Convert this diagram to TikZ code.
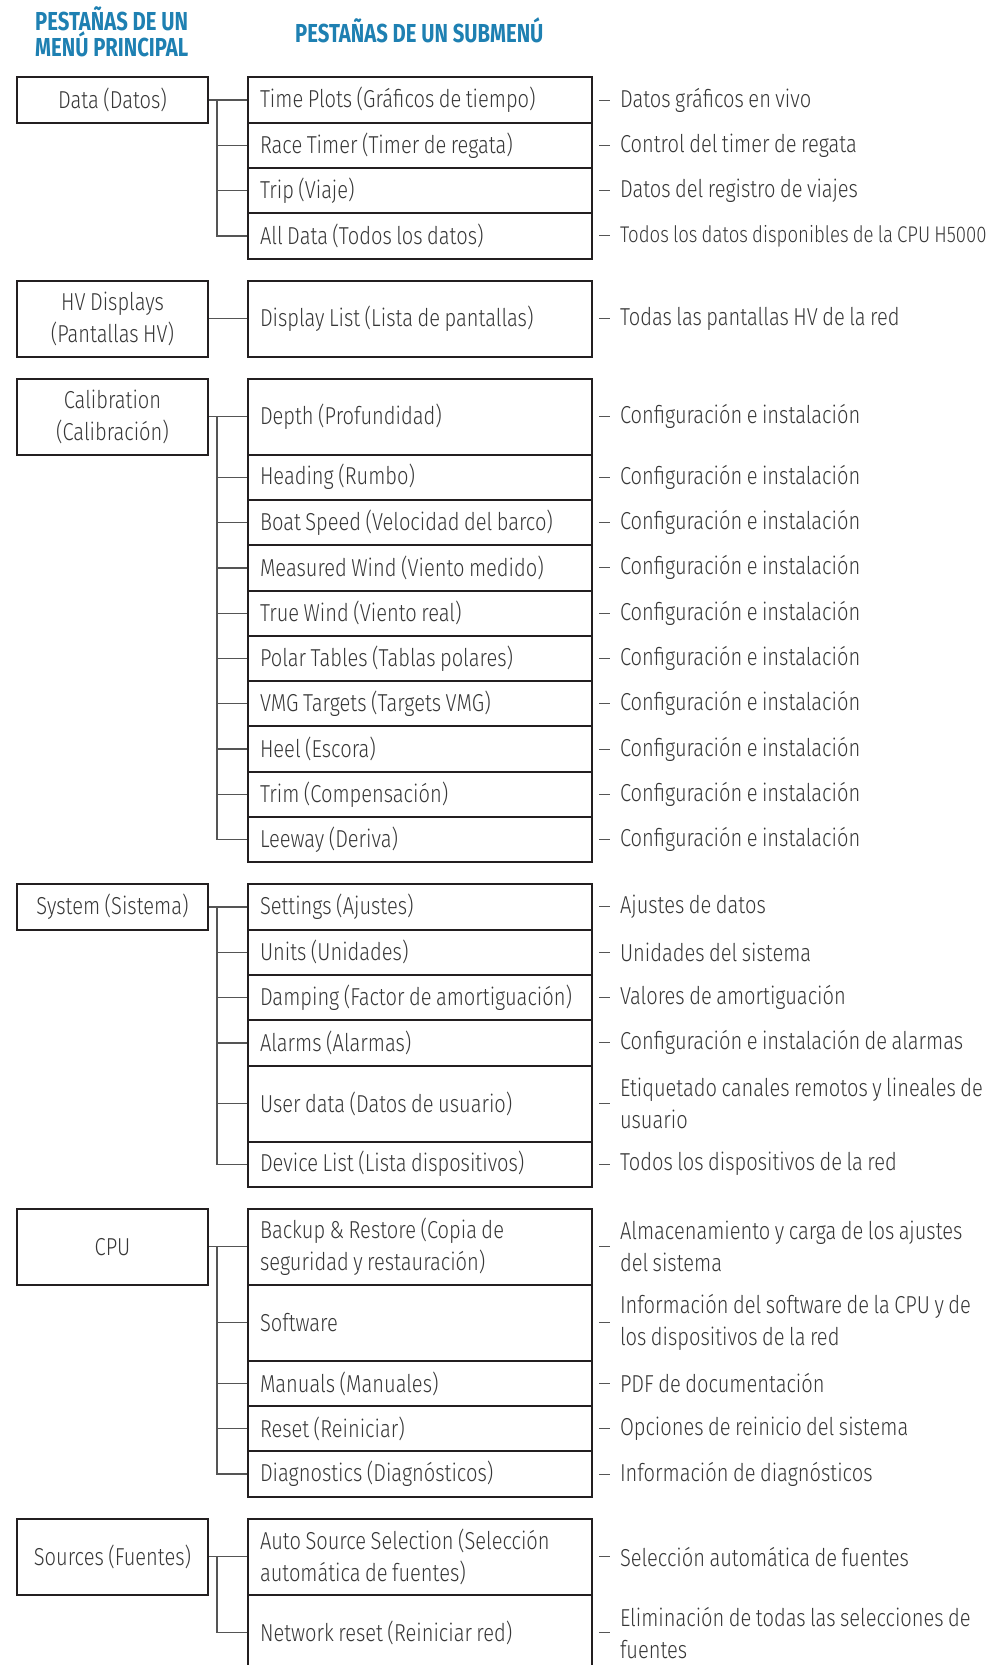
\documentclass[tikz,border=0pt]{standalone}
\usepackage{fontspec}
\setmainfont{Fira Sans}[UprightFont=* Light, BoldFont=* Bold, FakeStretch=0.82, WordSpace=0.8]
\newfontfamily\headfont{Fira Sans Bold}[FakeStretch=0.78]
\definecolor{hdblue}{RGB}{30,128,178}
\definecolor{boxline}{RGB}{35,31,32}
\definecolor{linkgray}{RGB}{85,85,85}
\definecolor{txtgray}{RGB}{55,55,55}
\usetikzlibrary{positioning}

\begin{document}
\begin{tikzpicture}[x=1pt, y=-1pt,
  mainbox/.style={draw=boxline, line width=2pt, minimum width=191pt, align=center, inner sep=0pt, anchor=north west, font=\fontsize{24.5}{32}\selectfont, text=txtgray},
  subbox/.style={draw=boxline, line width=2pt, text width=320pt, align=flush left, inner xsep=12pt, inner ysep=0pt, anchor=north west, font=\fontsize{24.5}{32}\selectfont, text=txtgray},
  rowS/.style={minimum height=45.3pt},
  rowT/.style={minimum height=76pt},
  desc/.style={inner xsep=0pt, inner ysep=0pt, outer sep=0pt, align=flush left, font=\fontsize{24.5}{32}\selectfont, text=txtgray},
  link/.style={draw=linkgray, line width=1.3pt},
  tick/.style={draw=linkgray, line width=1pt, shorten <=6pt, shorten >=10pt},
  head/.style={font=\headfont\fontsize{26}{26.5}\selectfont, text=hdblue, align=left, inner sep=0pt}]

  \fill[white] (0,0) rectangle (1001,1665);
  \useasboundingbox (0,0) rectangle (1001,1665);

  %% --- HEADINGS ---
  \node[head, anchor=north west] (hmain) at (35,6)  {PESTAÑAS DE UN\\MENÚ PRINCIPAL};
  \node[head, anchor=west]       (hsub)  at (295,30) {PESTAÑAS DE UN SUBMENÚ};

  %% --- DATA ---
  \node[mainbox, rowS] (data)    at (16,76.4)  {Data (Datos)};
  \node[subbox, rowS]  (tplot)   at (247,76.4)  {Time Plots (Gráficos de tiempo)};
  \node[subbox, rowS]  (rtimer)  at (247,121.7) {Race Timer (Timer de regata)};
  \node[subbox, rowS]  (trip)    at (247,167.0) {Trip (Viaje)};
  \node[subbox, rowS]  (alldata) at (247,212.3) {All Data (Todos los datos)};

  \draw[link] (data.east) -- (tplot.west);
  \draw[link] ([xshift=8pt]data.east) |- (rtimer.west);
  \draw[link] ([xshift=8pt]data.east) |- (trip.west);
  \draw[link] ([xshift=8pt]data.east) |- (alldata.west);

  \node[desc, right=27pt of tplot]   (dtplot)   {Datos gráficos en vivo};
  \node[desc, right=27pt of rtimer]  (drtimer)  {Control del timer de regata};
  \node[desc, right=27pt of trip]    (dtrip)    {Datos del registro de viajes};
  \node[desc, right=27pt of alldata, font=\fontsize{22.7}{32}\selectfont] (dalldata) {Todos los datos disponibles de la CPU H5000};
  \draw[tick] (tplot.east) -- (dtplot.west);
  \draw[tick] (rtimer.east) -- (drtimer.west);
  \draw[tick] (trip.east) -- (dtrip.west);
  \draw[tick] (alldata.east) -- (dalldata.west);

  %% --- HV DISPLAYS ---
  \node[mainbox, rowT] (hvdisp) at (16,279.6)  {HV Displays\\(Pantallas HV)};
  \node[subbox, rowT]  (dlist)  at (247,279.6) {Display List (Lista de pantallas)};
  \draw[link] (hvdisp.east) -- (dlist.west);
  \node[desc, right=27pt of dlist] (ddlist) {Todas las pantallas HV de la red};
  \draw[tick] (dlist.east) -- (ddlist.west);

  %% --- CALIBRATION ---
  \node[mainbox, rowT] (calib)   at (16,377.6)  {Calibration\\(Calibración)};
  \node[subbox, rowT]  (depth)   at (247,377.6) {Depth (Profundidad)};
  \node[subbox, rowS]  (heading) at (247,453.6) {Heading (Rumbo)};
  \node[subbox, rowS]  (bspeed)  at (247,498.9) {Boat Speed (Velocidad del barco)};
  \node[subbox, rowS]  (mwind)   at (247,544.2) {Measured Wind (Viento medido)};
  \node[subbox, rowS]  (twind)   at (247,589.5) {True Wind (Viento real)};
  \node[subbox, rowS]  (polar)   at (247,634.8) {Polar Tables (Tablas polares)};
  \node[subbox, rowS]  (vmg)     at (247,680.1) {VMG Targets (Targets VMG)};
  \node[subbox, rowS]  (heel)    at (247,725.4) {Heel (Escora)};
  \node[subbox, rowS]  (trim)    at (247,770.7) {Trim (Compensación)};
  \node[subbox, rowS]  (leeway)  at (247,816.0) {Leeway (Deriva)};

  \draw[link] (calib.east) -- (depth.west);
  \foreach \r in {heading,bspeed,mwind,twind,polar,vmg,heel,trim,leeway}
    \draw[link] ([xshift=8pt]calib.east) |- (\r.west);

  \foreach \r in {depth,heading,bspeed,mwind,twind,polar,vmg,heel,trim,leeway} {
    \node[desc, right=27pt of \r] (d\r) {Configuración e instalación};
    \draw[tick] (\r.east) -- (d\r.west);
  }

  %% --- SYSTEM ---
  \node[mainbox, rowS] (system)   at (16,883.3)   {System (Sistema)};
  \node[subbox, rowS]  (settings) at (247,883.3)  {Settings (Ajustes)};
  \node[subbox, rowS]  (units)    at (247,928.6)  {Units (Unidades)};
  \node[subbox, rowS]  (damping)  at (247,973.9)  {Damping (Factor de amortiguación)};
  \node[subbox, rowS]  (alarms)   at (247,1019.2) {Alarms (Alarmas)};
  \node[subbox, rowT]  (udata)    at (247,1064.5) {User data (Datos de usuario)};
  \node[subbox, rowS]  (devlist)  at (247,1140.5) {Device List (Lista dispositivos)};

  \draw[link] (system.east) -- (settings.west);
  \foreach \r in {units,damping,alarms,udata,devlist}
    \draw[link] ([xshift=8pt]system.east) |- (\r.west);

  \node[desc, right=27pt of settings] (dsettings) {Ajustes de datos};
  \node[desc, right=27pt of units]    (dunits)    {Unidades del sistema};
  \node[desc, right=27pt of damping]  (ddamping)  {Valores de amortiguación};
  \node[desc, right=27pt of alarms]   (dalarms)   {Configuración e instalación de alarmas};
  \node[desc, right=27pt of udata]    (dudata)    {Etiquetado canales remotos y lineales de\\usuario};
  \node[desc, right=27pt of devlist]  (ddevlist)  {Todos los dispositivos de la red};
  \foreach \r in {settings,units,damping,alarms,udata,devlist}
    \draw[tick] (\r.east) -- (d\r.west);

  %% --- CPU ---
  \node[mainbox, rowT] (cpu)      at (16,1207.8)  {CPU};
  \node[subbox, rowT]  (backup)   at (247,1207.8) {Backup \& Restore (Copia de\\seguridad y restauración)};
  \node[subbox, rowT]  (software) at (247,1283.8) {Software};
  \node[subbox, rowS]  (manuals)  at (247,1359.8) {Manuals (Manuales)};
  \node[subbox, rowS]  (reset)    at (247,1405.1) {Reset (Reiniciar)};
  \node[subbox, rowS]  (diag)     at (247,1450.4) {Diagnostics (Diagnósticos)};

  \draw[link] (cpu.east) -- (backup.west);
  \foreach \r in {software,manuals,reset,diag}
    \draw[link] ([xshift=8pt]cpu.east) |- (\r.west);

  \node[desc, right=27pt of backup]   (dbackup)   {Almacenamiento y carga de los ajustes\\del sistema};
  \node[desc, right=27pt of software] (dsoftware) {Información del software de la CPU y de\\los dispositivos de la red};
  \node[desc, right=27pt of manuals]  (dmanuals)  {PDF de documentación};
  \node[desc, right=27pt of reset]    (dreset)    {Opciones de reinicio del sistema};
  \node[desc, right=27pt of diag]     (ddiag)     {Información de diagnósticos};
  \foreach \r in {backup,software,manuals,reset,diag}
    \draw[tick] (\r.east) -- (d\r.west);

  %% --- SOURCES ---
  \node[mainbox, rowT] (sources)  at (16,1517.7)  {Sources (Fuentes)};
  \node[subbox, rowT]  (autosrc)  at (247,1517.7) {Auto Source Selection (Selección\\automática de fuentes)};
  \node[subbox, rowT]  (netreset) at (247,1593.7) {Network reset (Reiniciar red)};

  \draw[link] (sources.east) -- (autosrc.west);
  \draw[link] ([xshift=8pt]sources.east) |- (netreset.west);

  \node[desc, right=27pt of autosrc]  (dautosrc)  {Selección automática de fuentes};
  \node[desc, right=27pt of netreset] (dnetreset) {Eliminación de todas las selecciones de\\fuentes};
  \draw[tick] (autosrc.east) -- (dautosrc.west);
  \draw[tick] (netreset.east) -- (dnetreset.west);
\end{tikzpicture}
\end{document}
